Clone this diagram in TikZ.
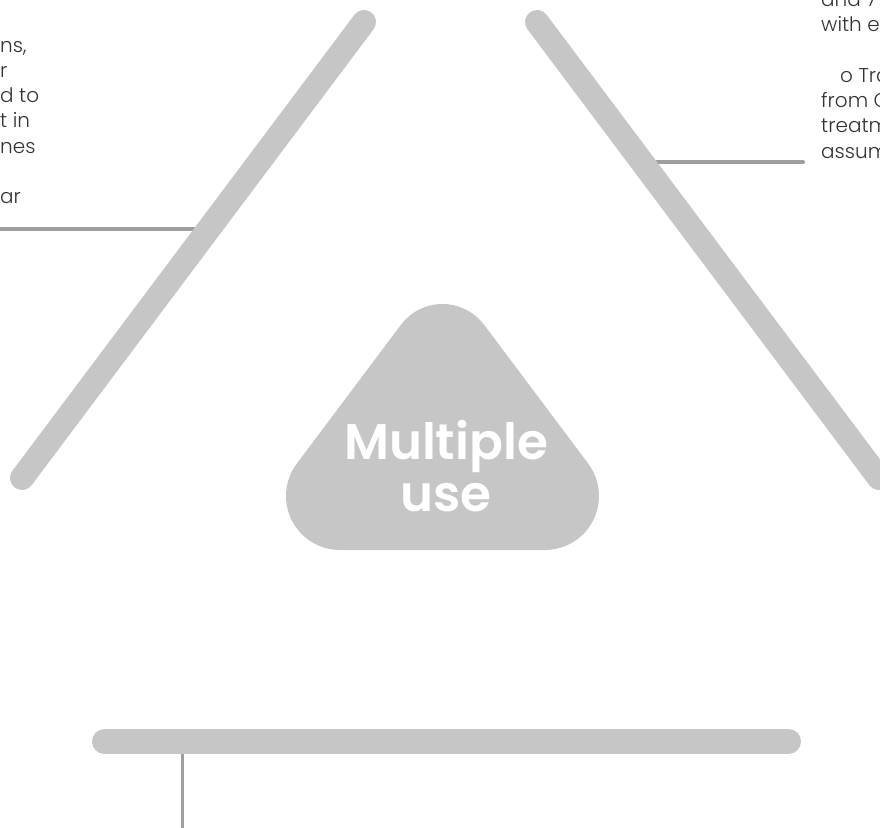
\documentclass[tikz,border=0pt]{standalone}
\usepackage{fontspec}
\setmainfont{Poppins}
\newfontfamily\bodyfont{Poppins Light}
\newfontfamily\titlefont{Poppins SemiBold}
\definecolor{barc}{HTML}{C6C6C6}
\definecolor{linkc}{HTML}{9E9E9E}
\definecolor{txtc}{HTML}{333333}
\tikzset{
  bar/.style={draw=barc, line width=24pt, line cap=round},
  link/.style={draw=linkc, line width=4pt},
  bodytxt/.style={font=\bodyfont\fontsize{20}{25.3}\selectfont, text=txtc, inner sep=0pt, align=left},
  titletxt/.style={font=\titlefont\fontsize{50}{52}\selectfont, text=white, inner sep=0pt, align=center}
}
\begin{document}
\begin{tikzpicture}[x=1pt,y=-1pt]
\useasboundingbox (0,0) rectangle (880,827);
\clip (0,0) rectangle (880,827);
% named end points
\coordinate (lbA) at (22,478);
\coordinate (lbB) at (364,22);
\coordinate (rbA) at (537,22);
\coordinate (rbB) at (879,478);
\coordinate (hbA) at (104.5,741.5);
\coordinate (hbB) at (788.5,741.5);
\coordinate (lcA) at (-5,229);
\coordinate (lcB) at (208,229);
\coordinate (rcA) at (642,162);
\coordinate (rcB) at (803,162);
\coordinate (bcA) at (182,745);
\coordinate (bcB) at (182,830);
% connectors (under bars)
\draw[link] (lcA) -- (lcB);
\draw[link, line cap=round] (rcA) -- (rcB);
\draw[link, line width=3pt] (bcA) -- (bcB);
% bars
\draw[bar] (lbA) -- (lbB);
\draw[bar] (rbA) -- (rbB);
\draw[bar, line width=25pt] (hbA) -- (hbB);
% central rounded triangle
\fill[barc] (340,550) arc[start angle=90, end angle=216.87, radius=54]
  -- (400.9,324.8) arc[start angle=216.87, end angle=323.13, radius=52]
  -- (588.2,463.6) arc[start angle=323.13, end angle=450, radius=54] -- cycle;
\node[titletxt] (title) at (446,466) {Multiple\\use};
% clipped text fragments (anchored at the baseline of their last line)
\node[bodytxt, anchor=base west] (lefttxt) at (0,203.8) {ns,\\r\\d to\\t in\\nes\\[25.3pt]ar};
\node[bodytxt, anchor=base west] (righttxt) at (821,158) {and 7\\with e\\[25.3pt]\hspace*{19pt}o Tra\\from C\\treatm\\assum};
\end{tikzpicture}
\end{document}
